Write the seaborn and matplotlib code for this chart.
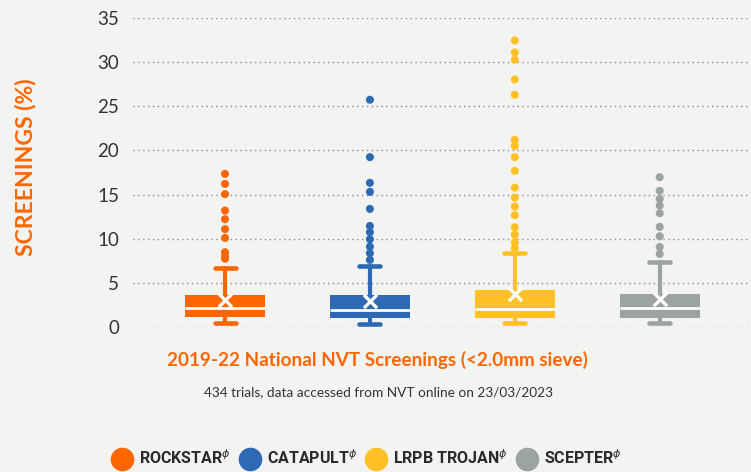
import matplotlib
matplotlib.use("Agg")
import matplotlib.pyplot as plt
from matplotlib.lines import Line2D
import seaborn as sns
import pandas as pd

# cultivars and box summaries (screenings %)
cultivars = ["ROCKSTAR", "CATAPULT", "LRPB TROJAN", "SCEPTER"]
colors = ["#FF6600", "#2E6AB4", "#FFC125", "#9BA4A0"]

q1 = [1.17, 1.05, 0.98, 1.05]
median = [2.12, 1.89, 2.00, 2.12]
q3 = [3.63, 3.63, 4.19, 3.74]
whisker_low = [0.42, 0.34, 0.49, 0.49]
whisker_high = [6.72, 6.95, 8.43, 7.33]
means = [3.06, 2.95, 3.74, 3.17]

# outliers
outliers_rockstar = [17.35, 16.21, 15.05, 13.19, 12.21, 11.08, 10.09, 8.47, 8.0, 7.74]
outliers_catapult = [25.74, 19.24, 16.33, 15.31, 13.38, 11.45, 10.74, 9.94, 9.10, 8.36, 7.60]
outliers_trojan = [32.46, 31.10, 30.27, 28.04, 26.30, 21.20, 20.52, 19.24, 17.69,
                   15.79, 14.66, 13.64, 12.66, 11.30, 10.46, 9.60, 8.92]
outliers_scepter = [16.97, 15.42, 14.51, 13.75, 12.89, 11.34, 10.28, 9.07, 8.28]

bg = "#F3F3F1"
orange = "#FF6600"
dark = "#2B2B2B"

sns.set_style("white")
plt.rcParams["font.family"] = ["Lato", "DejaVu Sans"]

fliers = pd.DataFrame({
    "cultivar": ["ROCKSTAR"] * len(outliers_rockstar)
    + ["CATAPULT"] * len(outliers_catapult)
    + ["LRPB TROJAN"] * len(outliers_trojan)
    + ["SCEPTER"] * len(outliers_scepter),
    "screenings": outliers_rockstar + outliers_catapult + outliers_trojan + outliers_scepter,
})

fig = plt.figure(figsize=(7.51, 4.72), dpi=100, facecolor=bg)
ax = fig.add_axes([133 / 751, 145 / 472, 618 / 751, 309 / 472])
ax.set_facecolor(bg)

sns.stripplot(
    data=fliers, x="cultivar", y="screenings", hue="cultivar",
    order=cultivars, hue_order=cultivars, palette=colors,
    jitter=False, size=5.8, linewidth=0, legend=False, ax=ax, zorder=4
)

for i, c in enumerate(colors):
    stats = [dict(q1=q1[i], med=median[i], q3=q3[i],
                  whislo=whisker_low[i], whishi=whisker_high[i], fliers=[])]
    ax.bxp(
        stats, positions=[i], widths=0.55, capwidths=0.145,
        patch_artist=True, showfliers=False, manage_ticks=False,
        boxprops=dict(facecolor=c, edgecolor=c, linewidth=0),
        medianprops=dict(color="white", linewidth=2),
        whiskerprops=dict(color=c, linewidth=3),
        capprops=dict(color=c, linewidth=3.3),
    )

ax.scatter(range(len(means)), means, marker="x", color="white",
           s=90, linewidths=2.4, zorder=6)

ax.set_xlim(-0.635, 3.63)
ax.set_ylim(0, 35)
ax.set_yticks(range(0, 36, 5))
ax.set_xticks([])
ax.set_xlabel("")
ax.set_ylabel("")
ax.yaxis.grid(True, linestyle=(0, (1, 2.5)), color="#8c8c8c", linewidth=1)
ax.set_axisbelow(True)
sns.despine(ax=ax, left=True, bottom=True)
ax.tick_params(axis="y", length=0, pad=10, labelsize=13.5, labelcolor="#333333")

fig.text(26 / 751, 1 - 167 / 472, "SCREENINGS (%)", rotation=90, color=orange,
         fontweight="bold", fontsize=16.5, ha="center", va="center")

fig.text(377.5 / 751, 1 - 360 / 472, "2019-22 National NVT Screenings (<2.0mm sieve)",
         color=orange, fontweight="bold", fontsize=13.6, ha="center", va="center")
fig.text(378 / 751, 1 - 392 / 472, "434 trials, data accessed from NVT online on 23/03/2023",
         color="#333333", fontsize=9.8, ha="center", va="center")

handles = [Line2D([], [], marker="o", linestyle="", markersize=17,
                  markerfacecolor=c, markeredgewidth=0) for c in colors]
labels = [name + r"$^{\phi}$" for name in cultivars]
fig.legend(handles, labels, loc="center", bbox_to_anchor=(367 / 751, 1 - 458 / 472),
           ncol=4, frameon=False, handletextpad=0.45, columnspacing=0.6,
           handlelength=1.2, labelcolor=dark,
           prop=dict(family="Roboto", weight="bold", size=11.5))

fig.savefig("out.png", dpi=100, facecolor=bg)
